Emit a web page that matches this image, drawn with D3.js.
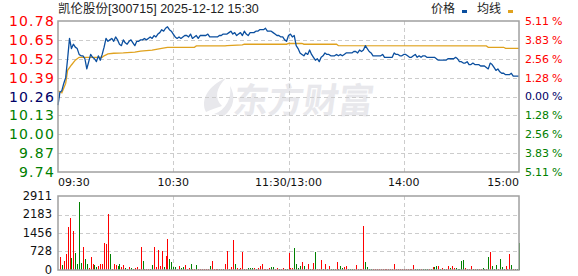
<!DOCTYPE html>
<html lang="zh">
<meta charset="utf-8"/>
<head>
<style>
  body { margin: 0; background: #fff; }
  svg { display: block; }
</style>
</head>
<body>
<svg id="chart" width="578" height="276"></svg>

<script src="https://d3js.org/d3.v7.min.js"></script>
<script>
// ---- data ----
let title = "凯伦股份[300715] 2025-12-12 15:30"
let preClose = 10.26

let priceTicks = [10.78, 10.65, 10.52, 10.39, 10.26, 10.13, 10.00, 9.87, 9.74]
let pctTicks = ["5.11", "3.83", "2.56", "1.28", "0.00", "1.28", "2.56", "3.83", "5.11"]
let timeTicks = [0, 60, 120, 180, 240]
let timeLabels = ["09:30", "10:30", "11:30/13:00", "14:00", "15:00"]
let volTicks = [0, 728, 1456, 2183, 2911]

// one price per minute, 09:30 .. 15:00 (241 points)
let price = [
  10.20,10.29,10.30,10.35,10.39,10.52,10.66,10.59,10.62,10.60,
  10.59,10.55,10.54,10.54,10.52,10.45,10.50,10.55,10.53,10.52,
  10.50,10.54,10.51,10.55,10.60,10.66,10.64,10.65,10.66,10.64,
  10.67,10.65,10.62,10.61,10.65,10.63,10.62,10.64,10.65,10.63,
  10.61,10.64,10.64,10.65,10.65,10.66,10.65,10.66,10.67,10.66,
  10.68,10.67,10.69,10.70,10.72,10.71,10.73,10.74,10.72,10.71,
  10.69,10.67,10.66,10.67,10.66,10.67,10.68,10.68,10.67,10.69,
  10.66,10.67,10.68,10.66,10.68,10.68,10.68,10.68,10.69,10.67,
  10.67,10.67,10.67,10.67,10.68,10.68,10.69,10.69,10.69,10.70,
  10.71,10.69,10.70,10.68,10.69,10.70,10.68,10.71,10.69,10.68,
  10.70,10.70,10.70,10.71,10.71,10.72,10.72,10.72,10.73,10.71,
  10.71,10.71,10.70,10.69,10.68,10.68,10.67,10.67,10.65,10.64,
  10.68,10.69,10.67,10.68,10.61,10.59,10.56,10.55,10.54,10.56,
  10.55,10.58,10.55,10.53,10.51,10.52,10.50,10.53,10.54,10.56,
  10.55,10.55,10.54,10.54,10.54,10.55,10.54,10.55,10.54,10.55,
  10.56,10.56,10.56,10.56,10.57,10.57,10.56,10.58,10.57,10.58,
  10.61,10.59,10.57,10.56,10.54,10.54,10.54,10.54,10.54,10.55,
  10.53,10.53,10.53,10.53,10.53,10.56,10.55,10.55,10.54,10.54,
  10.55,10.55,10.54,10.53,10.53,10.54,10.55,10.53,10.54,10.53,
  10.54,10.54,10.53,10.53,10.53,10.53,10.53,10.52,10.51,10.51,
  10.51,10.51,10.51,10.52,10.52,10.52,10.52,10.53,10.52,10.50,
  10.50,10.49,10.49,10.50,10.48,10.48,10.49,10.48,10.48,10.48,
  10.47,10.47,10.47,10.46,10.45,10.49,10.48,10.46,10.44,10.45,
  10.43,10.42,10.42,10.41,10.41,10.41,10.42,10.40,10.40,10.40,
  10.40
]

// average price line, at the minutes where it steps
let avgMin = [0, 2, 4, 5, 7, 9, 11, 23, 24, 26, 29, 34, 40, 43, 49, 54, 57, 71, 72, 87, 88, 96, 97, 119, 120, 127, 128, 145, 146, 223, 224, 232, 233, 240]
let avgVal = [10.30, 10.285, 10.35, 10.44, 10.477, 10.51, 10.53, 10.53, 10.54, 10.553, 10.558, 10.56, 10.566, 10.573, 10.58, 10.592, 10.599, 10.599, 10.608, 10.608, 10.611, 10.615, 10.62, 10.62, 10.625, 10.625, 10.62, 10.62, 10.61, 10.608, 10.599, 10.599, 10.592, 10.592]

// volume per minute and its colour (r = up, g = down)
let volume = [
  0,498,196,354,629,1703,2057,472,1533,655,
  236,2686,288,917,432,236,79,498,236,196,
  105,157,236,236,1074,1022,2200,629,26,236,
  196,157,236,105,196,65,26,105,65,26,
  79,105,26,890,354,26,26,26,26,196,
  917,105,786,157,760,105,550,1205,432,328,
  131,105,26,157,79,131,196,26,65,236,
  52,52,196,26,26,26,26,26,26,157,
  367,26,26,52,26,26,26,236,760,52,
  105,1179,236,65,52,65,707,26,26,79,
  79,79,79,26,79,157,236,52,26,52,
  79,105,105,52,79,52,26,65,52,52,
  655,65,79,865,236,65,157,314,157,26,
  236,52,26,275,707,26,26,393,26,236,
  26,157,52,26,26,314,52,157,65,105,
  157,52,52,52,26,196,52,52,52,1729,
  314,105,52,52,26,26,26,26,52,26,
  26,26,52,26,26,236,26,26,26,26,
  26,26,26,26,26,196,26,26,26,26,
  26,26,26,26,26,105,105,157,157,52,
  65,52,52,157,65,157,65,65,52,26,
  354,393,65,26,52,157,52,52,52,52,
  26,65,52,26,511,707,157,52,196,26,
  432,105,52,157,52,629,196,26,26,26,
  1074
]
let volDir = (
  "rrgrrrrgrg" + "gggrggrrrg" + "grrrrrrgrr" + "rggrrggrgg" + "rrrrgrrrgg" +
  "rrrrrgrrgg" + "ggrrggrrrg" + "rrgrrrrrrg" + "rrrrgrgrrg" + "rrgrgrrgrg" +
  "ggrgrrrrrr" + "rggrrgrrgg" + "rrrggggrgr" + "rgrrgrrrgr" + "grggrrgggr" +
  "rgggrrrrrr" + "ggggrrrrrr" + "rrrrrrrrrr" + "rrrrrrgggr" + "gggrgrggrg" +
  "rgrrgrrggg" + "ggrgrrgrgr" + "rggrgrgggr" + "gggrrrgrggg"
).split("")

// ---- layout ----
let left = 58, right = 519
let pTop = 21, pBottom = 172
let vTop = 196, vBottom = 270

let red = "#ff0000", green = "#008000", dark = "#000066"
let gridColor = "#cccccc", frameColor = "#a0a0a0"

let svg = d3.select("#chart")

let x = d3.scaleLinear().domain([0, 240]).range([left, right])
let y = d3.scaleLinear().domain([9.74, 10.78]).range([pBottom, pTop])
let yv = d3.scaleLinear().domain([0, 2911]).range([vBottom, vTop])

function tickColor(v) {
  if (Math.abs(v - preClose) < 0.001) return dark
  return v > preClose ? red : green
}

// watermark
let wm = svg.append("g").attr("fill", "#e8e8ec")
wm.append("path")
  .attr("d", "M206,112 C200,100 208,86 226,78 C216,88 214,98 222,106 C216,108 210,110 206,112 Z M214,114 C226,110 232,98 230,86 C236,96 234,108 224,116 Z")
wm.append("text")
  .attr("x", 234).attr("y", 113)
  .attr("font-family", "Noto Sans CJK SC")
  .attr("font-weight", 700)
  .attr("font-size", 35)
  .attr("transform", "skewX(-8) translate(14,0)")
  .text("东方财富")

// grid
let grid = svg.append("g")
  .attr("stroke", gridColor)
  .attr("stroke-dasharray", "4,3")
  .attr("shape-rendering", "crispEdges")

grid.selectAll(".hp")
  .data(priceTicks.slice(1, -1))
  .join("line")
  .attr("x1", left).attr("x2", right)
  .attr("y1", d => Math.round(y(d)) + 0.5).attr("y2", d => Math.round(y(d)) + 0.5)

grid.selectAll(".hv")
  .data(volTicks.slice(1, -1))
  .join("line").attr("class", "hv")
  .attr("x1", left).attr("x2", right)
  .attr("y1", d => Math.round(yv(d)) + 0.5).attr("y2", d => Math.round(yv(d)) + 0.5)

timeTicks.slice(1, -1).forEach(t => {
  let xx = Math.round(x(t)) + 0.5
  grid.append("line").attr("x1", xx).attr("x2", xx).attr("y1", pTop).attr("y2", pBottom)
  grid.append("line").attr("x1", xx).attr("x2", xx).attr("y1", vTop).attr("y2", vBottom)
})

// volume bars
svg.append("g")
  .attr("shape-rendering", "crispEdges")
  .selectAll("rect")
  .data(volume)
  .join("rect")
  .attr("x", (d, i) => Math.round(x(i)))
  .attr("width", 1)
  .attr("y", d => yv(d))
  .attr("height", d => vBottom - yv(d))
  .attr("fill", (d, i) => volDir[i] == "r" ? red : green)

// price lines
let avgPts = avgMin.map((m, i) => [m, avgVal[i]])

svg.append("path")
  .datum(avgPts)
  .attr("fill", "none")
  .attr("stroke", "#e0a21e")
  .attr("stroke-width", 1.3)
  .attr("d", d3.line().x(d => x(d[0])).y(d => y(d[1])))

svg.append("path")
  .datum(price)
  .attr("fill", "none")
  .attr("stroke", "#0b4f9f")
  .attr("stroke-width", 1.3)
  .attr("stroke-linejoin", "round")
  .attr("d", d3.line().x((d, i) => x(i)).y(d => y(d)))

// frames
svg.append("rect")
  .attr("x", left).attr("y", pTop).attr("width", right - left).attr("height", pBottom - pTop)
  .attr("fill", "none").attr("stroke", frameColor).attr("stroke-width", 1.5)
svg.append("rect")
  .attr("x", left).attr("y", vTop).attr("width", right - left).attr("height", vBottom - vTop)
  .attr("fill", "none").attr("stroke", frameColor).attr("stroke-width", 1.5)

// left price labels
svg.append("g")
  .selectAll("text")
  .data(priceTicks)
  .join("text")
  .attr("x", 55)
  .attr("y", d => y(d))
  .attr("dy", "0.36em")
  .attr("text-anchor", "end")
  .attr("font-family", "DejaVu Sans")
  .attr("font-size", 14)
  .attr("letter-spacing", 1.2)
  .attr("fill", tickColor)
  .text(d => d.toFixed(2))

// right percent labels
svg.append("g")
  .selectAll("text")
  .data(pctTicks)
  .join("text")
  .attr("x", 525)
  .attr("y", (d, i) => y(priceTicks[i]))
  .attr("dy", "0.36em")
  .attr("font-family", "DejaVu Sans")
  .attr("font-size", 11)
  .attr("letter-spacing", -0.2)
  .attr("fill", (d, i) => tickColor(priceTicks[i]))
  .text(d => d + " %")

// time labels
svg.append("g")
  .selectAll("text")
  .data(timeTicks)
  .join("text")
  .attr("x", d => x(d))
  .attr("y", 186)
  .attr("text-anchor", (d, i) => i == 0 ? "start" : (i == timeTicks.length - 1 ? "end" : "middle"))
  .attr("font-family", "DejaVu Sans")
  .attr("font-size", 11)
  .attr("fill", "#111")
  .text((d, i) => timeLabels[i])

// volume labels
svg.append("g")
  .selectAll("text")
  .data(volTicks)
  .join("text")
  .attr("x", 52)
  .attr("y", d => yv(d))
  .attr("dy", "0.33em")
  .attr("text-anchor", "end")
  .attr("font-family", "DejaVu Sans")
  .attr("font-size", 11.5)
  .attr("fill", "#111")
  .text(d => d)

// title
svg.append("text")
  .attr("x", 58).attr("y", 13)
  .attr("font-family", "Liberation Sans, Noto Sans CJK SC")
  .attr("font-size", 12.5)
  .attr("fill", "#222")
  .text(title)

// legend
let legend = [["价格", "#0b4f9f", 431], ["均线", "#e0a21e", 477]]
legend.forEach(l => {
  svg.append("text")
    .attr("x", l[2]).attr("y", 13)
    .attr("font-family", "Noto Sans CJK SC")
    .attr("font-size", 12)
    .attr("fill", "#222")
    .text(l[0])
  svg.append("rect")
    .attr("x", l[2] + 31).attr("y", 10).attr("width", 5).attr("height", 3)
    .attr("fill", l[1])
})
</script>
</body>
</html>
